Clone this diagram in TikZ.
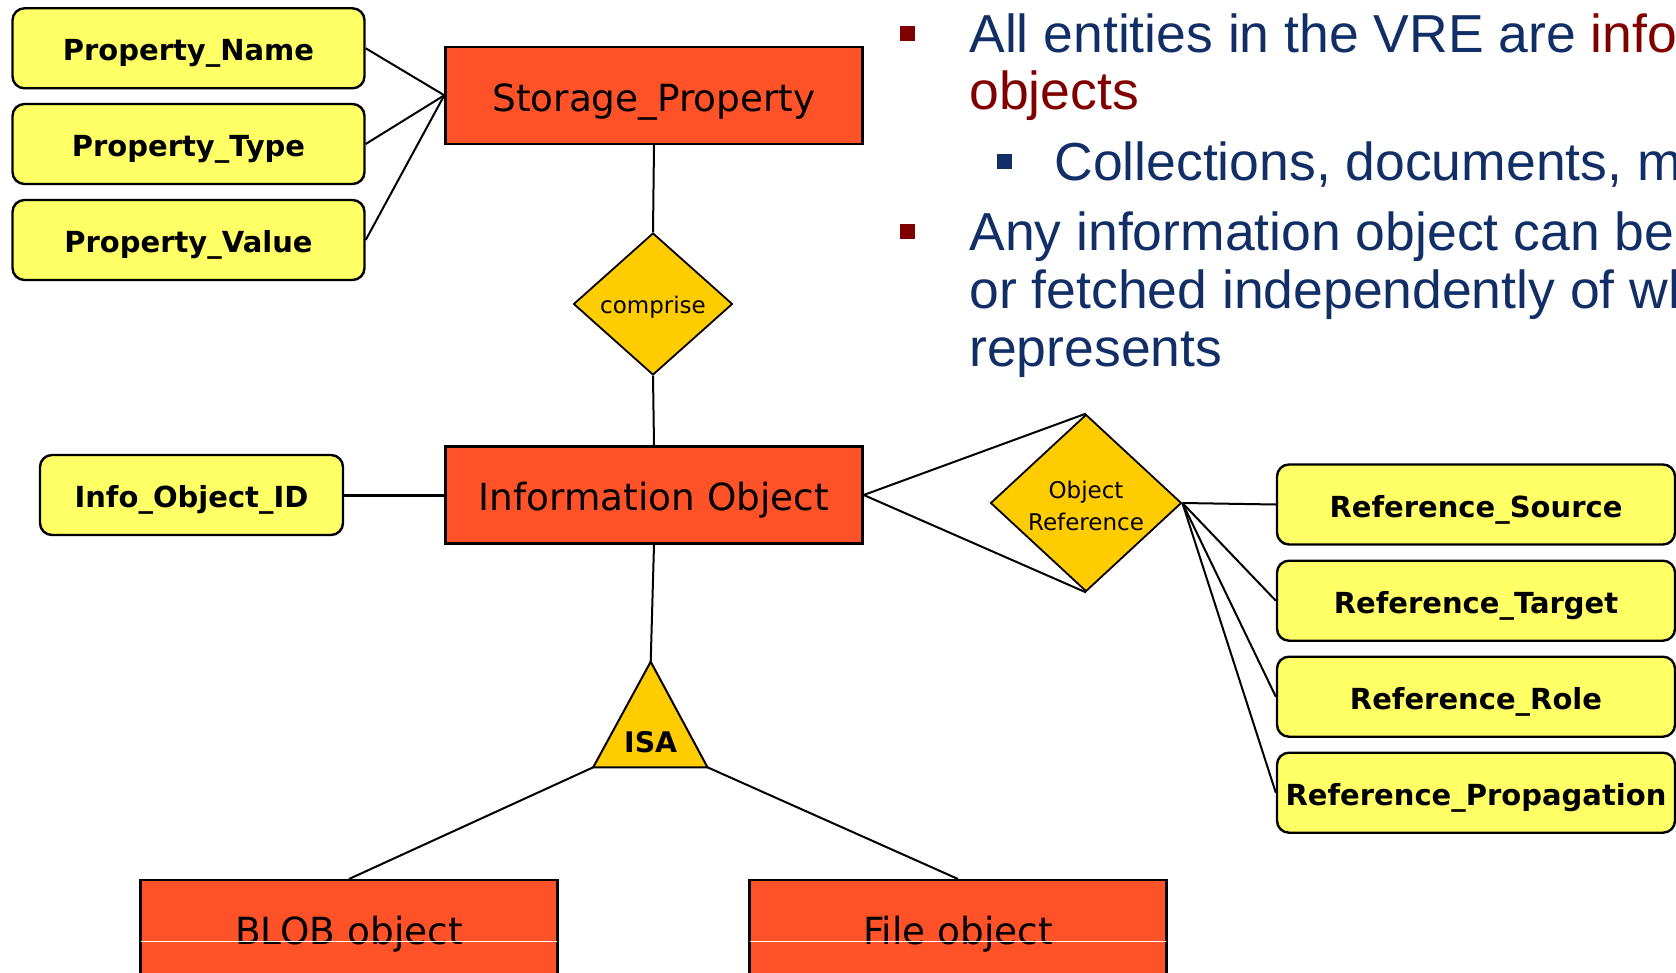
\documentclass[tikz,border=0pt]{standalone}
\usepackage{fontspec}
\setmainfont{Liberation Sans}
\newfontfamily\erfont{DejaVu Sans}
\usetikzlibrary{shapes.geometric}
\definecolor{entityfill}{RGB}{255,82,41}
\definecolor{attrfill}{RGB}{255,255,102}
\definecolor{relfill}{RGB}{255,204,0}
\definecolor{navy}{RGB}{18,46,102}
\definecolor{darkred}{RGB}{128,0,0}

\begin{document}
\begin{tikzpicture}[x=0.5pt,y=-0.5pt,
  entity/.style={draw=black, line width=1.2pt, fill=entityfill,
    minimum width=208.5pt, minimum height=48.5pt, inner sep=0pt,
    text height=15.8pt, text depth=0pt,
    font=\erfont\fontsize{18.7pt}{22pt}\selectfont},
  attr/.style={draw=black, line width=1.2pt, fill=attrfill, rounded corners=6pt,
    minimum width=176pt, minimum height=40pt, inner sep=0pt,
    text height=12.7pt, text depth=0pt,
    font=\erfont\bfseries\fontsize{14.5pt}{17pt}\selectfont},
  rel/.style={diamond, draw=black, line width=0.9pt, fill=relfill, inner sep=0pt,
    align=center, font=\erfont\fontsize{11.5pt}{16pt}\selectfont},
  link/.style={line width=1pt},
  bullettext/.style={anchor=base west, inner sep=0pt, text=navy,
    font=\fontsize{26.75pt}{32pt}\selectfont},
  bulletmark/.style={fill=#1, minimum size=7.5pt, inner sep=0pt}
]
\useasboundingbox (0,0) rectangle (1676,973);
\clip (0,0) rectangle (1676,973);

% ---- text column ----
\node[bulletmark=darkred] (b1) at (907,34) {};
\node[bullettext] (t1) at (969,52.7) {All entities in the VRE are \textcolor{darkred}{info}};
\node[bullettext, text=darkred] (t2) at (969,110) {objects};
\node[bulletmark=navy] (b2) at (1004.5,161.5) {};
\node[bullettext] (t3) at (1054,181) {Collections, documents, m};
\node[bulletmark=darkred] (b3) at (907,231.5) {};
\node[bullettext] (t4) at (969,251) {Any information object can be};
\node[bullettext] (t5) at (969,308.5) {or fetched independently of wh};
\node[bullettext] (t6) at (969,366) {represents};

% ---- storage property ----
\node[entity] (storage) at (654,95.3) {Storage\_Property};
\node[attr] (pname)  at (188.5,48.3) {Property\_Name};
\node[attr] (ptype)  at (188.5,144)  {Property\_Type};
\node[attr] (pvalue) at (188.5,240)  {Property\_Value};
\node[rel, minimum width=79.5pt, minimum height=71pt, aspect=1.12] (comprise) at (653,304) {};
\node[font=\erfont\fontsize{11.5pt}{16pt}\selectfont, inner sep=0pt] (compriselabel) at (653,307.5) {comprise};

% ---- information object ----
\node[entity] (info) at (654,495) {Information Object};
\node[attr, minimum width=151.5pt] (infoid) at (191.5,495) {Info\_Object\_ID};

% ---- object reference ----
\node[rel, minimum width=95.5pt, minimum height=88.5pt, aspect=1.08] (objref) at (1086,503) {};
\node[font=\erfont\fontsize{11.5pt}{16pt}\selectfont, inner sep=0pt, align=center] (objreflabel) at (1086,505.5) {Object\\Reference};
\node[attr, minimum width=199pt] (rsrc)  at (1476,504.5) {Reference\_Source};
\node[attr, minimum width=199pt] (rtgt)  at (1476,600.7) {Reference\_Target};
\node[attr, minimum width=199pt] (rrole) at (1476,696.7) {Reference\_Role};
\node[attr, minimum width=199pt] (rprop) at (1476,792.7) {Reference\_Propagation};

% ---- ISA specialisation ----
\coordinate (isatop)   at (650.7,661.7);
\coordinate (isaleft)  at (593.2,767.3);
\coordinate (isaright) at (707.5,767.3);
\filldraw[fill=relfill, draw=black, line width=1pt, line join=miter]
  (isatop) -- (isaright) -- (isaleft) -- cycle;
\node[font=\erfont\bfseries\fontsize{14.2pt}{17pt}\selectfont, inner sep=0pt] (isa) at (650.7,741.7) {ISA};

\node[entity, anchor=north] (blob) at (349,879) {BLOB object};
\node[entity, anchor=north] (file) at (958,879) {File object};
\draw[white, line width=0.6pt] ([yshift=-6.3pt,xshift=1pt]blob.west) -- ([yshift=-6.3pt,xshift=-1pt]blob.east);
\draw[white, line width=0.6pt] ([yshift=-6.3pt,xshift=1pt]file.west) -- ([yshift=-6.3pt,xshift=-1pt]file.east);

% ---- connectors ----
\draw[link] (pname.east)  -- (storage.west);
\draw[link] (ptype.east)  -- (storage.west);
\draw[link] (pvalue.east) -- (storage.west);
\draw[link] (storage.south) -- (comprise.north);
\draw[link] (comprise.south) -- (info.north);
\draw[link, line width=1.5pt] (infoid.east) -- (info.west);
\draw[link] (info.east) -- (objref.north);
\draw[link] (info.east) -- (objref.south);
\draw[link] (objref.east) -- (rsrc.west);
\draw[link] (objref.east) -- (rtgt.west);
\draw[link] (objref.east) -- (rrole.west);
\draw[link] (objref.east) -- (rprop.west);
\draw[link] (info.south) -- (isatop);
\draw[link] (isaleft)  -- (blob.north);
\draw[link] (isaright) -- (file.north);
\end{tikzpicture}
\end{document}
